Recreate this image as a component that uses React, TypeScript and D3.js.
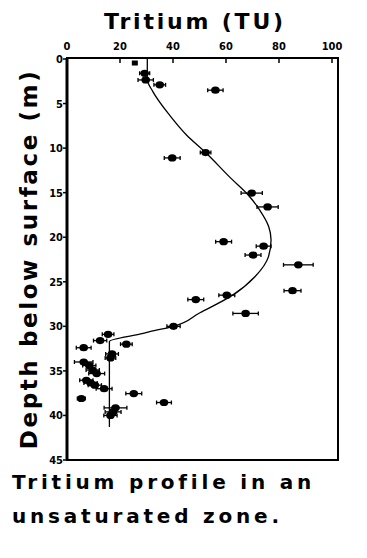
import React from "react";
import * as d3 from "d3";

const xTicks = [0, 20, 40, 60, 80, 100];
const yTicks = [0, 5, 10, 15, 20, 25, 30, 35, 40, 45];

const depth = [0.45, 1.6, 2.35, 2.9, 3.5, 10.5, 11.1, 15.05, 16.6, 20.5, 21.0, 22.0, 23.1, 26.0, 26.5, 27.0, 28.55, 30.0, 30.9, 31.6, 32.0, 32.4, 33.1, 33.55, 34.0, 34.4, 34.9, 35.3, 36.05, 36.35, 36.6, 37.0, 37.55, 38.1, 38.55, 39.15, 39.6, 40.0];
const tritium = [25.6, 29.3, 29.7, 35.0, 56.0, 52.3, 39.7, 69.7, 75.7, 59.1, 74.2, 70.2, 87.3, 85.1, 60.3, 48.6, 67.4, 40.2, 15.5, 12.5, 22.4, 6.3, 17.0, 16.4, 6.3, 8.4, 9.7, 11.2, 7.3, 8.9, 10.5, 14.0, 25.2, 5.4, 36.6, 18.3, 17.4, 16.4];
const errT = [0, 1.9, 2.9, 2.2, 2.9, 2.0, 3.0, 4.0, 4.0, 3.0, 2.8, 3.0, 5.6, 3.2, 3.0, 3.0, 4.8, 2.5, 2.2, 2.5, 2.2, 2.8, 2.4, 2.0, 3.5, 2.5, 2.5, 3.0, 2.5, 2.5, 2.5, 3.0, 3.0, 1.5, 2.8, 4.3, 3.0, 2.5];
const markerShape = depth.map((_, i) => (i === 0 ? "square" : "circle"));

const curveDepth = [0, 2.3, 3.66, 6.3, 8.5, 10.5, 13.4, 15.2, 16.9, 18.8, 20.3, 22.2, 24.4, 26.5, 28.5, 30.0, 30.6, 30.8, 31.7, 41.3];
const curveT = [30.3, 30.3, 32.4, 38.7, 45, 52.3, 61.9, 68.2, 72.6, 76.1, 77.0, 76.0, 71.0, 62.5, 50, 40.2, 31.2, 28.7, 16.0, 16.0];

const xTitle = "Tritium (TU)";
const yTitle = "Depth below surface (m)";
const caption = ["Tritium profile in an", "unsaturated zone."];

export default function App() {
  const W = 367, H = 558;
  const left = 67, right = 338, top = 58, bottom = 460;
  const x = d3.scaleLinear().domain([0, 100]).range([67, 332]);
  const y = d3.scaleLinear().domain([0, 45]).range([top + 1, bottom]);

  const line = d3
    .line<number>()
    .x((i) => x(curveT[i]))
    .y((i) => y(curveDepth[i]))
    .curve(d3.curveMonotoneY);
  const pathD = line(curveDepth.map((_, i) => i)) || "";

  const tickFont = "'DejaVu Sans Condensed', 'DejaVu Sans', sans-serif";

  return (
    <svg
      width={W}
      height={H}
      style={{ position: "absolute", left: 0, top: 0, background: "#fff" }}
    >
      <rect x={0} y={0} width={W} height={H} fill="#fff" />
      {/* title */}
      <text
        x={195}
        y={29}
        textAnchor="middle"
        fontFamily="'DejaVu Sans', sans-serif"
        fontWeight="bold"
        fontSize={22}
        letterSpacing={2.8}
        fill="#000"
      >
        {xTitle}
      </text>
      {/* y title */}
      <text
        transform={`translate(37, ${(75 + 443) / 2}) rotate(-90)`}
        textAnchor="middle"
        fontFamily="'DejaVu Sans', sans-serif"
        fontWeight="bold"
        fontSize={23}
        letterSpacing={2.6}
        fill="#000"
      >
        {yTitle}
      </text>
      {/* frame */}
      <rect
        x={left}
        y={top}
        width={right - left}
        height={bottom - top}
        fill="none"
        stroke="#000"
        strokeWidth={2}
      />
      <line x1={left} x2={left} y1={top} y2={bottom} stroke="#000" strokeWidth={3} />
      {/* x ticks */}
      {xTicks.map((t) => (
        <g key={"xt" + t}>
          <line x1={x(t)} x2={x(t)} y1={top} y2={top + 5} stroke="#000" strokeWidth={1.5} />
          <text
            x={x(t)}
            y={50}
            textAnchor="middle"
            fontFamily={tickFont}
            fontWeight="bold"
            fontSize={11}
            fill="#000"
          >
            {t}
          </text>
        </g>
      ))}
      {/* y ticks */}
      {yTicks.map((t) => (
        <g key={"yt" + t}>
          <line x1={left - 4} x2={left} y1={y(t)} y2={y(t)} stroke="#000" strokeWidth={1.5} />
          <text
            x={left - 4}
            y={y(t)}
            dy="0.36em"
            textAnchor="end"
            fontFamily={tickFont}
            fontWeight="bold"
            fontSize={11}
            fill="#000"
          >
            {t}
          </text>
        </g>
      ))}
      {/* fitted curve */}
      <path d={pathD} fill="none" stroke="#000" strokeWidth={1.3} />
      {/* data points */}
      {depth.map((d, i) => {
        const cx = x(tritium[i]);
        const cy = y(d);
        const x0 = x(tritium[i] - errT[i]);
        const x1 = x(tritium[i] + errT[i]);
        return (
          <g key={"p" + i}>
            {errT[i] > 0 && (
              <g stroke="#000" strokeWidth={1.3}>
                <line x1={x0} x2={x1} y1={cy} y2={cy} />
                <line x1={x0} x2={x0} y1={cy - 2} y2={cy + 2} />
                <line x1={x1} x2={x1} y1={cy - 2} y2={cy + 2} />
              </g>
            )}
            {markerShape[i] === "square" ? (
              <rect x={cx - 3} y={cy - 2.5} width={6} height={5} fill="#000" />
            ) : (
              <ellipse cx={cx} cy={cy} rx={4.3} ry={3.6} fill="#000" />
            )}
          </g>
        );
      })}
      {/* caption */}
      {caption.map((c, i) => (
        <text
          key={"c" + i}
          x={12}
          y={489 + i * 34}
          fontFamily="'DejaVu Sans', sans-serif"
          fontWeight="bold"
          fontSize={20}
          letterSpacing={3.8}
          fill="#000"
        >
          {c}
        </text>
      ))}
    </svg>
  );
}
